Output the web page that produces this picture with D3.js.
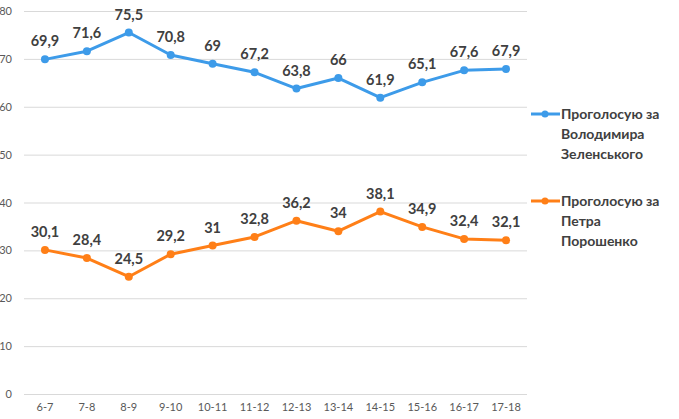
<!DOCTYPE html>
<html>
<head>
<meta charset="utf-8">
<script src="https://cdn.jsdelivr.net/npm/d3@7"></script>
<style>
  body { margin: 0; background: #fff; }
  text { font-family: Lato, "Open Sans", sans-serif; }
  .tick text { fill: #595959; font-size: 11px; }
  .lbl { fill: #404040; font-size: 14.5px; font-weight: bold; }
  .legend text { fill: #404040; font-size: 14px; font-weight: bold; }
</style>
</head>
<body>
<div id="chart"></div>
<script>
const periods = ['6-7', '7-8', '8-9', '9-10', '10-11', '11-12', '12-13', '13-14', '14-15', '15-16', '16-17', '17-18']
const zelensky = [69.9, 71.6, 75.5, 70.8, 69, 67.2, 63.8, 66, 61.9, 65.1, 67.6, 67.9]
const poroshenko = [30.1, 28.4, 24.5, 29.2, 31, 32.8, 36.2, 34, 38.1, 34.9, 32.4, 32.1]
const yTicks = [0, 10, 20, 30, 40, 50, 60, 70, 80]
const seriesNames = [['Проголосую за', 'Володимира', 'Зеленського'], ['Проголосую за', 'Петра', 'Порошенко']]
const colors = ['#3d9be9', '#ff7f17']

let width = 679, height = 419
let margin = {top: 11, right: 152, left: 24, bottom: 25}

let svg = d3.select('#chart').append('svg').attr('width', width).attr('height', height)

let x = d3.scaleBand().domain(periods).range([margin.left, width - margin.right])
let y = d3.scaleLinear().domain([0, 80]).range([height - margin.bottom, margin.top])

// gridlines + y labels
let yAxis = d3.axisLeft(y).tickValues(yTicks).tickSize(-(width - margin.right - margin.left)).tickPadding(12)
let gy = svg.append('g').attr('transform', 'translate(' + margin.left + ',0)').call(yAxis)
gy.select('.domain').remove()
gy.selectAll('.tick line').attr('stroke', '#d9d9d9')

let xAxis = d3.axisBottom(x).tickSize(0).tickPadding(9)
let gx = svg.append('g').attr('transform', 'translate(0,' + (height - margin.bottom) + ')').call(xAxis)
gx.select('.domain').remove()

let series = [zelensky, poroshenko]
let line = d3.line().x((d, i) => x(periods[i]) + x.bandwidth() / 2).y(d => y(d))

series.forEach((s, k) => {
    svg.append('path').datum(s).attr('d', line).attr('fill', 'none')
        .attr('stroke', colors[k]).attr('stroke-width', 3).attr('stroke-linejoin', 'round')
    svg.selectAll('.pt' + k).data(s).enter().append('circle')
        .attr('cx', (d, i) => x(periods[i]) + x.bandwidth() / 2).attr('cy', d => y(d))
        .attr('r', 4).attr('fill', colors[k])
    svg.selectAll('.lbl' + k).data(s).enter().append('text').attr('class', 'lbl')
        .attr('x', (d, i) => x(periods[i]) + x.bandwidth() / 2).attr('y', d => y(d) - 13)
        .attr('text-anchor', 'middle').text(d => String(d).replace('.', ','))
})

// legend
let legendY = [114, 201]
seriesNames.forEach((names, k) => {
    let g = svg.append('g').attr('class', 'legend').attr('transform', 'translate(531,' + legendY[k] + ')')
    g.append('line').attr('x1', 0).attr('x2', 29).attr('y1', 0).attr('y2', 0)
        .attr('stroke', colors[k]).attr('stroke-width', 3)
    g.append('circle').attr('cx', 14).attr('cy', 0).attr('r', 3.5).attr('fill', colors[k])
    names.forEach((n, j) => {
        g.append('text').attr('x', 30).attr('y', 5 + j * 20).text(n)
    })
})
</script>
</body>
</html>
